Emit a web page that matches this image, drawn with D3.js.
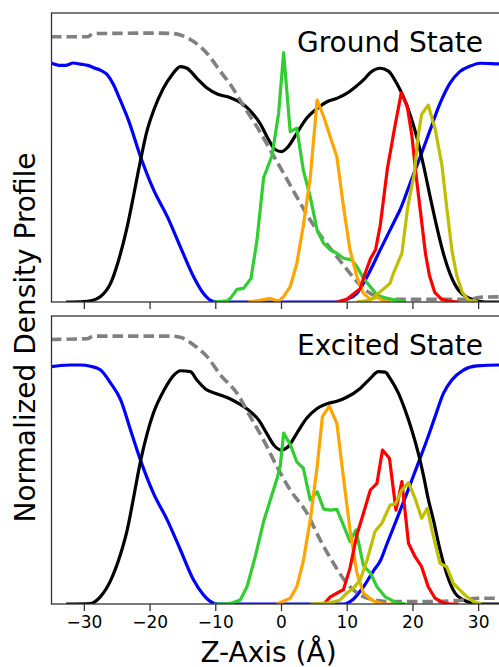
<!DOCTYPE html>
<html><head><meta charset="utf-8">
<script src="https://cdn.jsdelivr.net/npm/d3@7"></script>
<style>html,body{margin:0;padding:0;background:#fff;overflow:hidden}</style>
</head><body>
<svg id="chart" width="499" height="667"></svg>
<script>
// ---- data (z in Å, normalized density) ----
const zTicks = [-30, -20, -10, 0, 10, 20, 30];
const panelTitles = ["Ground State", "Excited State"];
const xLabel = "Z-Axis (Å)";
const yLabel = "Normalized Density Profile";

const groundWater = [[-35,1.0],[-33.5,0.99],[-32.8,0.99],[-31.6,1.0],[-30.5,0.995],[-29.4,0.99],[-28.5,0.98],[-27.5,0.97],[-26.4,0.95],[-25.5,0.91],[-24.7,0.86],[-23.2,0.76],[-21.4,0.61],[-19.4,0.47],[-17.3,0.357],[-15.3,0.23],[-13.3,0.106],[-11.8,0.036],[-10.3,0.003],[-9,0],[8.5,0],[10.0,0.011],[11.55,0.036],[13.1,0.106],[15.1,0.218],[17.6,0.357],[18.1,0.385],[19.65,0.497],[21.2,0.608],[22.7,0.72],[24.2,0.831],[25.7,0.915],[27.2,0.964],[28.8,0.987],[30.3,0.999],[33.2,0.996],[35,0.995]];
const groundTotal = [[-32.7,0],[-30,0.002],[-29,0.005],[-27.5,0.022],[-25.9,0.08],[-24.7,0.176],[-23.4,0.315],[-22.4,0.45],[-21.4,0.59],[-20.4,0.715],[-19.4,0.80],[-17.9,0.894],[-16.6,0.95],[-15.3,0.985],[-14.3,0.978],[-12.8,0.936],[-11.2,0.894],[-9.7,0.87],[-7.7,0.855],[-6.2,0.835],[-4.67,0.80],[-3.15,0.745],[-1.9,0.68],[-0.9,0.638],[0.1,0.629],[1.1,0.65],[2.4,0.706],[3.9,0.769],[5.5,0.81],[7.0,0.838],[8.5,0.852],[10.0,0.873],[11.55,0.905],[12.55,0.929],[13.6,0.96],[15.1,0.978],[16.35,0.966],[17.6,0.915],[18.6,0.86],[19.65,0.783],[20.67,0.69],[21.7,0.57],[22.7,0.44],[23.7,0.315],[24.7,0.204],[25.7,0.12],[27.0,0.05],[28.3,0.02],[29.8,0.005],[31,0],[35,0]];
const groundDashed = [[-35,1.11],[-29.5,1.11],[-28.5,1.123],[-25,1.124],[-20,1.125],[-16.8,1.124],[-15.3,1.117],[-13.3,1.09],[-11.25,1.04],[-9.2,0.964],[-7.7,0.91],[-5.7,0.82],[-3.65,0.733],[-1.63,0.636],[0.4,0.538],[2.4,0.44],[4.45,0.343],[6.5,0.26],[8.5,0.19],[10.5,0.12],[12.55,0.057],[13.6,0.036],[15.6,0.015],[18.6,0.011],[24.2,0.011],[28.8,0.011],[30.3,0.02],[35,0.022]];
const groundGreen = [[-10.3,0],[-8.2,0.005],[-7.7,0.015],[-6.7,0.053],[-5.7,0.057],[-4.56,0.099],[-3.65,0.26],[-2.65,0.52],[-1.37,0.612],[-0.36,0.79],[0.4,1.043],[1.4,0.713],[2.4,0.727],[3.4,0.552],[4.45,0.44],[5.5,0.30],[6.5,0.245],[7.5,0.218],[8.5,0.204],[9.5,0.183],[10.8,0.176],[11.55,0.148],[12.55,0.099],[13.6,0.064],[14.6,0.029],[16.1,0.015],[18.1,0.005],[19,0]];
const groundOrange = [[-5,0],[-3.65,0.005],[-1.63,0.015],[-0.36,0.003],[0.4,0.022],[1.4,0.064],[2.4,0.16],[3.4,0.32],[4.45,0.52],[5.5,0.845],[6.5,0.775],[7.5,0.69],[8.5,0.608],[9.5,0.40],[10.5,0.218],[11.55,0.106],[12.55,0.036],[13.6,0.011],[14.6,0.02],[15.6,0.005],[16.6,0]];
const groundRed = [[8.5,0],[10.0,0.011],[12.05,0.055],[12.8,0.12],[13.6,0.18],[14.4,0.22],[15.1,0.32],[16.2,0.56],[17.3,0.73],[18.3,0.875],[19.2,0.82],[19.9,0.70],[20.6,0.52],[21.3,0.36],[22.0,0.2],[22.6,0.11],[23.4,0.04],[24.4,0.012],[25.7,0.003],[27,0]];
const groundYellow = [[11.5,0],[13.6,0.008],[14.8,0.036],[16.6,0.078],[17.1,0.12],[18.4,0.204],[19.3,0.4],[20.3,0.54],[20.9,0.7],[21.4,0.785],[22.4,0.824],[23.45,0.725],[24.5,0.57],[25.2,0.40],[26.0,0.218],[26.75,0.11],[27.6,0.04],[28.5,0.008],[30,0]];

const excitedWater = [[-35,0.993],[-33.5,0.998],[-32.1,1.0],[-30.5,1.0],[-29,0.995],[-27.5,0.98],[-25.9,0.923],[-24.4,0.854],[-22.9,0.728],[-21.4,0.603],[-19.4,0.463],[-17.3,0.351],[-15.3,0.226],[-13.3,0.10],[-11.8,0.038],[-10.2,0.003],[-9,0],[9.5,0],[11.0,0.02],[12.55,0.072],[14.1,0.14],[15.1,0.18],[16.1,0.25],[17.4,0.34],[19.15,0.463],[20.67,0.574],[22.2,0.686],[23.45,0.784],[24.7,0.88],[26.0,0.937],[27.75,0.979],[29.8,0.996],[33.2,1.0],[35,1.0]];
const excitedTotal = [[-32.7,0],[-29,0.002],[-27.5,0.03],[-25.9,0.10],[-24.4,0.21],[-23.4,0.31],[-22.4,0.45],[-21.4,0.595],[-20.4,0.71],[-19.4,0.80],[-17.8,0.895],[-16.3,0.958],[-15.3,0.976],[-13.8,0.972],[-12.8,0.937],[-11.5,0.90],[-9.7,0.879],[-7.7,0.858],[-6.2,0.835],[-4.67,0.805],[-3.4,0.77],[-2.2,0.715],[-1.0,0.662],[0.0,0.644],[1.0,0.656],[2.4,0.714],[3.9,0.777],[5.5,0.818],[7.0,0.838],[8.5,0.848],[10.0,0.865],[12.05,0.902],[13.6,0.944],[14.8,0.972],[15.85,0.97],[16.6,0.944],[17.9,0.88],[18.9,0.81],[19.9,0.728],[20.9,0.63],[21.7,0.535],[22.4,0.44],[23.2,0.351],[24.2,0.226],[25.2,0.128],[26.5,0.045],[27.75,0.017],[29.3,0.003],[30.8,0],[35,0]];
const excitedDashed = [[-35,1.107],[-29.5,1.11],[-28.5,1.121],[-16.8,1.121],[-15.3,1.116],[-13.3,1.084],[-11.25,1.035],[-9.2,0.958],[-6.7,0.882],[-4.67,0.784],[-2.65,0.686],[-0.6,0.574],[1.4,0.477],[3.95,0.38],[5.97,0.268],[8.0,0.17],[10.0,0.087],[12.05,0.038],[14.1,0.017],[16.6,0.01],[23.2,0.01],[27.75,0.017],[29.8,0.024],[35,0.024]];
const excitedGreen = [[-10.2,0],[-7.7,0.002],[-6.2,0.017],[-5.17,0.072],[-3.9,0.2],[-2.65,0.345],[-1.63,0.435],[-0.6,0.525],[-0.1,0.58],[0.4,0.715],[1.4,0.668],[2.4,0.595],[3.4,0.568],[4.45,0.435],[5.5,0.47],[6.5,0.397],[7.5,0.393],[8.5,0.396],[9.5,0.33],[10.5,0.261],[11.4,0.31],[12.55,0.16],[13.6,0.13],[14.6,0.072],[15.85,0.03],[17.6,0.005],[19,0]];
const excitedOrange = [[-0.6,0],[1.4,0.024],[2.4,0.072],[3.4,0.18],[4.45,0.351],[5.5,0.574],[6.3,0.784],[7.35,0.828],[8.5,0.756],[9.5,0.53],[10.5,0.31],[11.55,0.13],[12.55,0.045],[14.1,0.012],[15.6,0],[17,0]];
const excitedRed = [[6.5,0],[7.5,0.03],[8.5,0.045],[9.5,0.06],[10.5,0.15],[11.55,0.29],[12.55,0.38],[13.6,0.477],[14.6,0.505],[15.45,0.644],[16.5,0.61],[17.5,0.393],[18.4,0.512],[19.4,0.254],[20.4,0.198],[21.4,0.156],[22.4,0.072],[23.45,0.024],[24.7,0.005],[25.7,0],[27,0]];
const excitedYellow = [[4.45,0],[7.5,0.005],[9.0,0.017],[10.0,0.045],[11.0,0.066],[12.05,0.10],[13.1,0.184],[14.3,0.303],[15.35,0.338],[16.6,0.414],[17.4,0.418],[18.4,0.477],[19.4,0.508],[20.4,0.442],[21.4,0.359],[22.25,0.40],[23.2,0.282],[24.2,0.17],[25.2,0.156],[26.2,0.087],[27.2,0.059],[28.3,0.03],[29.3,0.01],[30.5,0]];

// ---- layout / styles ----
const FONT = "'DejaVu Sans', sans-serif";
const styleOf = {
  water:  {color: "#0000ff", smooth: true, w: 3.2},
  total:  {color: "#000000", smooth: true, w: 3.2},
  dashed: {color: "#808080", smooth: true, w: 3.6, dash: "10.5,5"},
  green:  {color: "#32cd32", w: 3.2},
  orange: {color: "#ffa500", w: 3.2},
  red:    {color: "#ff0000", w: 3.2},
  yellow: {color: "#bfbf00", w: 3.2}
};
const panels = [
  {title: panelTitles[0], top: 13, bottom: 302, labels: false,
   series: {water: groundWater, total: groundTotal, dashed: groundDashed, green: groundGreen, orange: groundOrange, red: groundRed, yellow: groundYellow}},
  {title: panelTitles[1], top: 316, bottom: 604, labels: true,
   series: {water: excitedWater, total: excitedTotal, dashed: excitedDashed, green: excitedGreen, orange: excitedOrange, red: excitedRed, yellow: excitedYellow}}
];
const order = ["water", "total", "dashed", "green", "orange", "red", "yellow"];
const UNIT = 239; // px per unit of normalized density

const svg = d3.select("#chart");
const x = d3.scaleLinear().domain([-35, 35]).range([51, 511]);

panels.forEach((p, i) => {
  const h = p.bottom - p.top;
  const y = d3.scaleLinear().domain([0, h / UNIT]).range([p.bottom, p.top]);
  const g = svg.append("g");
  const clipId = "clip" + i;
  svg.append("clipPath").attr("id", clipId).append("rect")
    .attr("x", x.range()[0]).attr("y", p.top)
    .attr("width", x.range()[1] - x.range()[0]).attr("height", h);

  const lines = g.append("g").attr("clip-path", `url(#${clipId})`);
  order.forEach(k => {
    const st = styleOf[k];
    const line = d3.line().x(d => x(d[0])).y(d => y(d[1]))
      .curve(st.smooth ? d3.curveMonotoneX : d3.curveLinear);
    lines.append("path").datum(p.series[k])
      .attr("d", line).attr("fill", "none")
      .attr("stroke", st.color).attr("stroke-width", st.w)
      .attr("stroke-linejoin", "round")
      .attr("stroke-dasharray", st.dash || null);
  });

  // frame
  g.append("rect").attr("x", x.range()[0] + 0.5).attr("y", p.top)
    .attr("width", x.range()[1] - x.range()[0]).attr("height", h)
    .attr("fill", "none").attr("stroke", "#333").attr("stroke-width", 1.3);

  // x axis
  const axis = d3.axisBottom(x).tickValues(zTicks).tickSize(7).tickPadding(4.5)
    .tickFormat(p.labels ? d3.format("d") : "");
  const ax = g.append("g").attr("transform", `translate(0,${p.bottom})`).call(axis);
  ax.select(".domain").remove();
  ax.selectAll(".tick line").attr("stroke", "#333").attr("stroke-width", 1.3);
  ax.selectAll(".tick text").attr("fill", "#000").style("font-family", FONT).style("font-size", "17px");

  // title
  g.append("text").attr("x", 483).attr("y", p.top + 39)
    .attr("text-anchor", "end").style("font-family", FONT).style("font-size", "28px")
    .attr("fill", "#000").text(p.title);
});

svg.append("text").attr("x", 268.5).attr("y", 661.5).attr("text-anchor", "middle")
  .style("font-family", FONT).style("font-size", "28px").attr("fill", "#000").text(xLabel);
svg.append("text").attr("transform", "translate(35,337.5) rotate(-90)").attr("text-anchor", "middle")
  .style("font-family", FONT).style("font-size", "28px").attr("fill", "#000").text(yLabel);
</script>
</body></html>
